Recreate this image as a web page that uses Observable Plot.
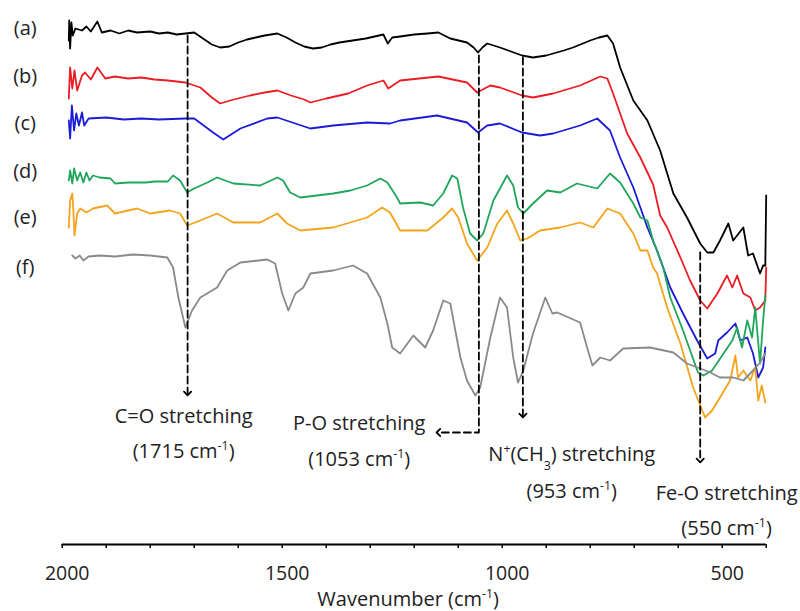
<!DOCTYPE html>
<html>
<head>
<meta charset="utf-8">
<script src="https://cdn.jsdelivr.net/npm/d3@7"></script>
<script src="https://cdn.jsdelivr.net/npm/@observablehq/plot@0.6"></script>
<style>
  html, body { margin: 0; padding: 0; background: #fff; }
  #chart { width: 800px; height: 611px; }
</style>
</head>
<body>
<div id="chart"></div>
<script>
// ---- Data (wavenumber cm^-1, transmittance in arbitrary offset units) ----
const seriesNames = ["(a)", "(b)", "(c)", "(d)", "(e)", "(f)"];
const seriesColors = ["#000000", "#ec1c24", "#1b1bd6", "#1fa65a", "#f4a41c", "#8a8a8a"];
const labelLevels = [516, 468, 421, 373, 327, 277];

const traceA = [[1985,504],[1984,524],[1982,496],[1979,522],[1976,509],[1970,516],[1955,514],[1945,518],[1935,513],[1920,523],[1910,512],[1890,514],[1870,511],[1850,514],[1830,512],[1800,513],[1780,511],[1760,512],[1740,510],[1720,511],[1700,512],[1680,506],[1660,500],[1641,497],[1620,498],[1600,502],[1580,505],[1560,507],[1540,509],[1511,511],[1490,507],[1470,502],[1450,498],[1430,496],[1410,497],[1390,500],[1370,502],[1340,504],[1310,506],[1290,508],[1270,510],[1260,501],[1250,507],[1232,508],[1200,510],[1170,511],[1145,512],[1118,506],[1080,502],[1065,497],[1055,492],[1045,497],[1034,501],[1005,497],[980,493],[955,489],[930,487],[900,489],[884,491],[860,494],[839,497],[800,504],[780,507],[761,509],[748,501],[732,477],[702,444],[670,424],[641,394],[611,351],[580,327],[550,301],[534,292],[520,292],[505,304],[486,321],[475,304],[452,317],[441,289],[430,291],[414,271],[407,279],[402,279],[400,349]];

const traceB = [[1985,446],[1982,477],[1977,456],[1972,474],[1966,454],[1955,469],[1948,472],[1935,465],[1920,477],[1902,466],[1880,468],[1850,466],[1820,467],[1790,465],[1760,464],[1720,462],[1686,457],[1660,447],[1641,441],[1610,445],[1573,449],[1540,452],[1511,454],[1480,449],[1450,445],[1436,442],[1400,446],[1350,451],[1307,459],[1270,464],[1259,456],[1232,464],[1145,468],[1080,462],[1057,452],[1027,459],[1005,457],[955,449],[930,447],[884,451],[823,459],[777,468],[761,466],[748,451],[716,411],[686,387],[657,360],[641,329],[625,317],[595,287],[573,264],[550,244],[534,236],[511,251],[489,269],[477,257],[466,269],[452,251],[436,247],[425,234],[414,237],[402,244],[400,277]];

const traceC = [[1985,424],[1982,406],[1978,439],[1973,414],[1968,431],[1962,419],[1955,432],[1950,419],[1940,426],[1900,427],[1860,425],[1820,426],[1780,425],[1720,426],[1700,426],[1657,412],[1634,405],[1595,416],[1534,426],[1511,427],[1436,416],[1384,419],[1307,422],[1255,421],[1232,424],[1148,429],[1080,422],[1055,412],[1034,419],[1005,421],[955,412],[914,409],[884,411],[823,419],[784,426],[755,414],[732,387],[702,357],[686,337],[670,317],[648,294],[618,257],[589,231],[557,204],[534,186],[516,191],[509,204],[489,212],[470,221],[459,204],[443,207],[430,191],[418,167],[407,177],[402,197]];

const traceD = [[1985,364],[1982,374],[1977,361],[1973,376],[1966,364],[1959,372],[1952,362],[1945,372],[1938,364],[1930,369],[1915,367],[1890,366],[1880,361],[1850,362],[1810,362],[1790,363],[1760,363],[1748,369],[1732,364],[1716,352],[1700,356],[1670,362],[1648,367],[1611,361],[1550,359],[1511,367],[1498,364],[1482,352],[1459,347],[1384,351],[1345,354],[1307,359],[1277,366],[1261,362],[1239,347],[1232,341],[1186,342],[1157,339],[1134,351],[1114,369],[1102,366],[1089,337],[1073,311],[1057,304],[1043,311],[1020,344],[989,369],[975,359],[964,337],[952,331],[930,341],[898,354],[868,352],[830,361],[784,356],[755,371],[732,362],[702,341],[686,327],[670,324],[657,304],[634,277],[618,247],[589,214],[555,172],[543,169],[523,174],[500,189],[477,204],[466,217],[455,197],[443,224],[432,207],[425,237],[414,181],[407,224],[402,249]];

const traceE = [[1985,317],[1982,344],[1977,351],[1975,337],[1972,309],[1966,331],[1959,336],[1945,332],[1930,336],[1898,339],[1880,331],[1850,334],[1830,336],[1800,331],[1770,333],[1755,334],[1732,331],[1716,319],[1686,324],[1648,331],[1611,322],[1550,322],[1511,331],[1489,321],[1459,314],[1384,317],[1307,327],[1273,337],[1255,332],[1232,314],[1170,314],[1134,327],[1114,336],[1100,327],[1080,301],[1057,284],[1034,297],[1011,321],[989,334],[975,321],[959,304],[943,306],[914,314],[868,317],[823,322],[793,317],[761,336],[732,331],[702,311],[686,294],[670,294],[657,277],[648,271],[625,237],[595,201],[566,157],[539,127],[523,134],[505,147],[482,164],[470,189],[464,167],[452,174],[436,164],[425,177],[418,144],[410,159],[402,142]];

const traceF = [[1977,289],[1970,286],[1960,289],[1952,284],[1940,288],[1914,289],[1880,288],[1839,290],[1800,289],[1761,287],[1748,277],[1736,247],[1720,217],[1705,234],[1686,247],[1648,257],[1625,274],[1595,282],[1534,285],[1516,281],[1500,251],[1486,234],[1470,251],[1452,257],[1436,271],[1384,274],[1339,279],[1307,271],[1277,247],[1261,221],[1250,197],[1232,191],[1202,209],[1175,197],[1157,214],[1134,244],[1118,241],[1095,187],[1080,164],[1061,149],[1050,157],[1027,207],[1005,247],[989,237],[975,187],[964,162],[952,174],[930,211],[902,247],[886,231],[875,232],[823,222],[807,197],[795,179],[777,187],[755,184],[725,196],[664,197],[611,192],[580,181],[550,176],[527,172],[505,167],[475,167],[452,164],[430,174],[414,182],[402,191]];

const traces = [traceA, traceB, traceC, traceD, traceE, traceF];

// x axis
const xTicks = d3.range(400, 2001, 100);
const xTickLabels = ["2000", "1500", "1000", "500"];
const xTickLabelValues = [2000, 1500, 1000, 500];
const xTitle = "Wavenumber (cm^{-1})";

// annotations: dashed guide paths (wavenumber, level) ending in an arrowhead
const annotPaths = [
  {name: "C=O", pts: [[1715, 509], [1715, 151]]},
  {name: "P-O", pts: [[1053, 489], [1053, 112], [1145, 112]]},
  {name: "N+", pts: [[953, 487], [953, 129]]},
  {name: "Fe-O", pts: [[550, 292], [550, 84]]}
];
const annotLabels = ["C=O stretching", "(1715 cm^{-1})", "P-O stretching", "(1053 cm^{-1})",
                     "N^{+}(CH_{3}) stretching", "(953 cm^{-1})", "Fe-O stretching", "(550 cm^{-1})"];
const annotLabelWn = [1724, 1724, 1325, 1325, 842, 842, 490, 490];
const annotLabelLevel = [127.5, 92.5, 120.5, 85, 89.5, 52.5, 51, 16];

// ---- build tables ----
const rows = [];
traces.forEach((t, i) => t.forEach(([wn, v]) => rows.push({series: seriesNames[i], color: seriesColors[i], wn, v})));
const annotRows = [];
annotPaths.forEach(p => p.pts.forEach(([wn, v]) => annotRows.push({name: p.name, wn, v})));
const annotText = annotLabels.map((label, i) => ({label, wn: annotLabelWn[i], v: annotLabelLevel[i]}));
const tickText = xTickLabels.map((label, i) => ({label, wn: xTickLabelValues[i]}));

const chart = Plot.plot({
  width: 800,
  height: 611,
  marginTop: 0,
  marginBottom: 67,
  marginLeft: 61.7,
  marginRight: 34.3,
  style: {fontFamily: "'Open Sans', sans-serif", background: "white", color: "black"},
  x: {domain: [2000, 400], axis: null},
  y: {domain: [0, 544], axis: null},
  marks: [
    Plot.line(rows, {x: "wn", y: "v", z: "series", stroke: "color", strokeWidth: 1.8, strokeLinejoin: "round"}),
    Plot.line(annotRows, {x: "wn", y: "v", z: "name", stroke: "black", strokeWidth: 1.8,
      strokeDasharray: "7,4", markerEnd: "arrow"}),
    Plot.text(annotText, {x: "wn", y: "v", text: "label", fontSize: 20, lineAnchor: "middle", fill: "#222"}),
    Plot.text(seriesNames, {frameAnchor: "left", y: (d, i) => labelLevels[i], dx: -37, textAnchor: "middle",
      lineAnchor: "middle", fontSize: 20, fill: "#222"}),
    Plot.ruleY([0], {stroke: "black", strokeWidth: 2}),
    Plot.axisX({ticks: xTicks, tickSize: 4, tickFormat: () => "", label: null, stroke: "black", strokeWidth: 1.5}),
    Plot.text(tickText, {x: "wn", text: "label", frameAnchor: "bottom", lineAnchor: "top", dy: 21.5, dx: 5,
      fontSize: 19.5, fill: "#222"}),
    Plot.text([xTitle], {frameAnchor: "bottom", dy: 55.5, dx: -6, lineAnchor: "middle", fontSize: 20, fill: "#222"})
  ]
});

// markers should be solid, not dashed
chart.querySelectorAll("marker, marker path").forEach(el => el.setAttribute("stroke-dasharray", "none"));

// rich text: ^{..} superscript, _{..} subscript
const NS = "http://www.w3.org/2000/svg";
chart.querySelectorAll("text").forEach(t => {
  if (t.children.length) return;
  const s = t.textContent;
  if (!/[\^_]\{/.test(s)) return;
  t.textContent = "";
  const re = /([\^_])\{([^}]*)\}/g;
  let last = 0, m;
  const plain = str => { if (str) { const sp = document.createElementNS(NS, "tspan"); sp.textContent = str; t.appendChild(sp); } };
  while ((m = re.exec(s))) {
    plain(s.slice(last, m.index));
    const sp = document.createElementNS(NS, "tspan");
    sp.setAttribute("baseline-shift", m[1] === "^" ? "super" : "sub");
    sp.setAttribute("font-size", "62%");
    sp.textContent = m[2];
    t.appendChild(sp);
    last = re.lastIndex;
  }
  plain(s.slice(last));
});

document.getElementById("chart").appendChild(chart);
</script>
</body>
</html>
